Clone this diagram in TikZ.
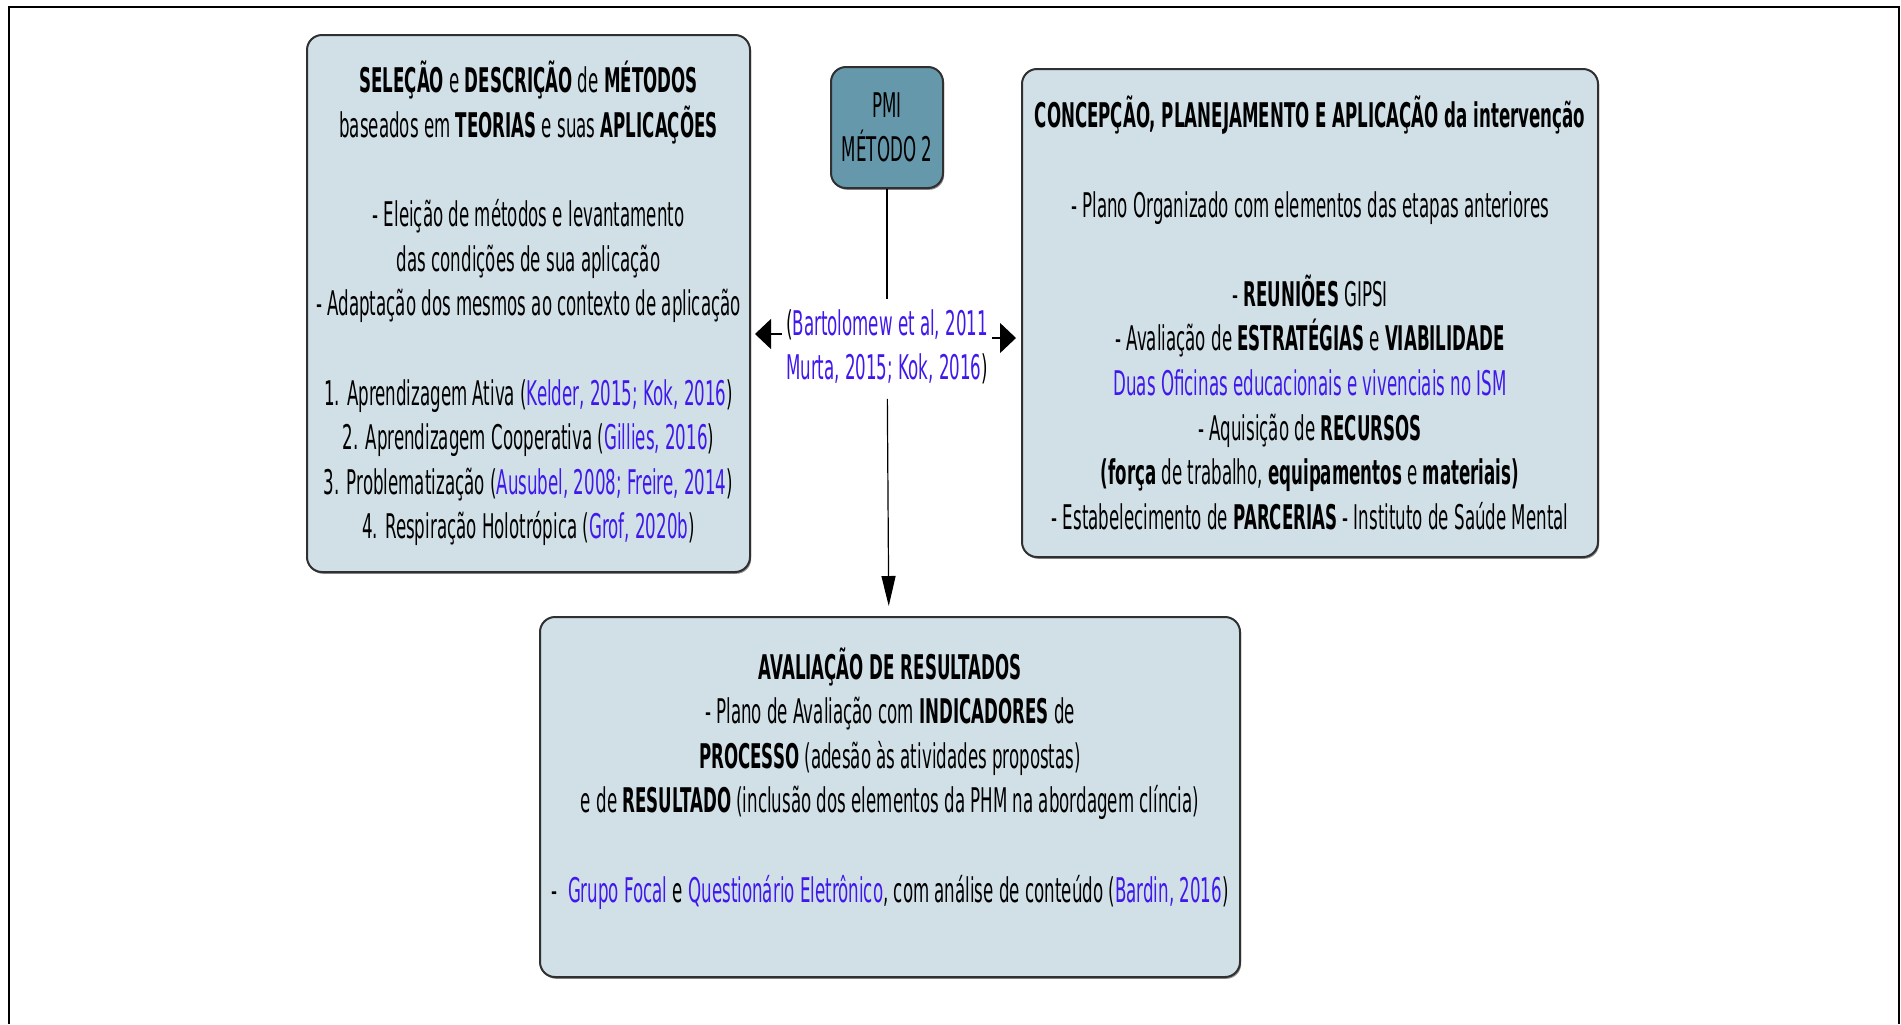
\documentclass[tikz,border=0pt]{standalone}
\usepackage{fontspec}
\setmainfont{DejaVu Sans}[FakeStretch=0.49]
\usetikzlibrary{arrows.meta,shadows}
\definecolor{boxfill}{RGB}{209,224,231}
\definecolor{pmifill}{RGB}{102,152,172}
\definecolor{boxline}{RGB}{48,48,48}
\definecolor{refblue}{RGB}{64,24,236}
\newcommand{\refblue}[1]{\textcolor{refblue}{#1}}
\tikzset{
  stagebox/.style={draw=boxline, line width=1pt, fill=boxfill, rounded corners=7.5pt, align=center,
    drop shadow={shadow xshift=0.6pt, shadow yshift=-0.9pt, opacity=0.45, fill=black}},
  pmibox/.style={stagebox, fill=pmifill},
  link/.style={draw=black, line width=0.6pt},
  hlink/.style={link, -{Triangle[length=8pt,width=15pt]}},
  vlink/.style={link, -{Triangle[length=15pt,width=7pt]}}
}
\begin{document}
\begin{tikzpicture}[x=0.5pt, y=-0.5pt, font=\fontsize{17}{22.3}\selectfont]
\useasboundingbox (0,0) rectangle (1901,1024);
\draw[line width=1pt] (9,1024) -- (9,7) -- (1899,7) -- (1899,1024);
\node[stagebox, minimum width=221.5pt, minimum height=268.5pt] (selecao) at (528.5,303.5) {\textbf{SELEÇÃO} e \textbf{DESCRIÇÃO} de \textbf{MÉTODOS}\\
baseados em \textbf{TEORIAS} e suas \textbf{APLICAÇÕES}\\[22.3pt]
- Eleição de métodos e levantamento\\
das condições de sua aplicação\\
- Adaptação dos mesmos ao contexto de aplicação\\[22.3pt]
1. Aprendizagem Ativa (\refblue{Kelder, 2015; Kok, 2016})\\
2. Aprendizagem Cooperativa (\refblue{Gillies, 2016})\\
3. Problematização (\refblue{Ausubel, 2008; Freire, 2014})\\
4. Respiração Holotrópica (\refblue{Grof, 2020b})};
\node[pmibox, minimum width=56pt, minimum height=60.5pt] (pmi) at (887,127.5) {PMI\\MÉTODO 2};
\node[stagebox, minimum width=288pt, minimum height=244pt] (concepcao) at (1310,313) {\textbf{CONCEPÇÃO, PLANEJAMENTO E APLICAÇÃO da intervenção}\\[22.3pt]
- Plano Organizado com elementos das etapas anteriores\\[22.3pt]
- \textbf{REUNIÕES} GIPSI\\
- Avaliação de \textbf{ESTRATÉGIAS} e \textbf{VIABILIDADE}\\
\refblue{Duas Oficinas educacionais e vivenciais no ISM}\\
- Aquisição de \textbf{RECURSOS}\\
\textbf{(força} de trabalho, \textbf{equipamentos} e \textbf{materiais)}\\
- Estabelecimento de \textbf{PARCERIAS} - Instituto de Saúde Mental};
\node[stagebox, minimum width=350pt, minimum height=180pt] (avaliacao) at (890,797) {\textbf{AVALIAÇÃO DE RESULTADOS}\\
- Plano de Avaliação com \textbf{INDICADORES} de\\
\textbf{PROCESSO} (adesão às atividades propostas)\\
e de \textbf{RESULTADO} (inclusão dos elementos da PHM na abordagem clíncia)\\[22.3pt]
-\ \ \refblue{Grupo Focal} e \refblue{Questionário Eletrônico}, com análise de conteúdo (\refblue{Bardin, 2016})\\
~};
\node[align=center, inner sep=2pt] (fontes) at (887,347) {(\refblue{Bartolomew et al, 2011}\\\refblue{Murta, 2015; Kok, 2016})};
\draw[link, shorten >=3pt] (pmi) -- (fontes);
\draw[vlink, shorten <=5pt, shorten >=5pt] (fontes) -- (avaliacao);
\draw[hlink, shorten >=2pt] ([yshift=6.5pt]fontes.west) -- ([yshift=6.5pt]fontes.west -| selecao.east);
\draw[hlink, shorten >=2.5pt] ([yshift=4.5pt]fontes.east) -- ([yshift=4.5pt]fontes.east -| concepcao.west);
\end{tikzpicture}
\end{document}
